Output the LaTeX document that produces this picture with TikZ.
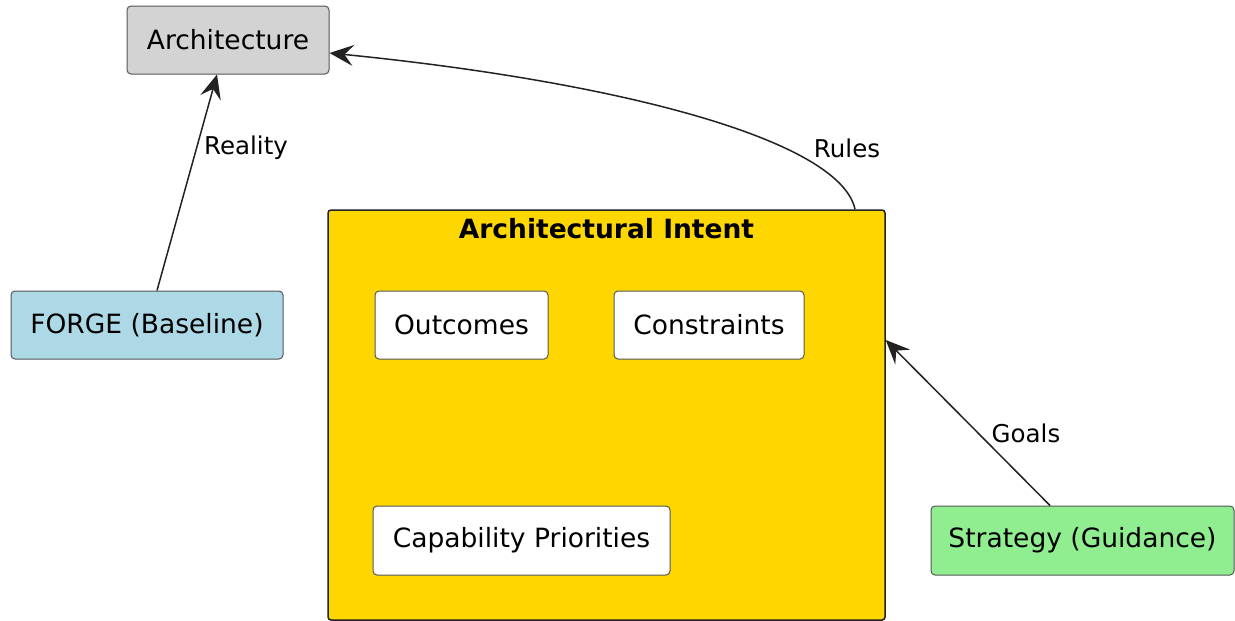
\documentclass[tikz,border=0pt]{standalone}
\usepackage{fontspec}
\setmainfont{DejaVu Sans}
\usetikzlibrary{arrows.meta}
\definecolor{archgray}{HTML}{D3D3D3}
\definecolor{forgeblue}{HTML}{ADD8E6}
\definecolor{intentgold}{HTML}{FFD700}
\definecolor{stratgreen}{HTML}{90EE90}
\definecolor{edgegray}{HTML}{555555}
\definecolor{linegray}{HTML}{222222}
\tikzset{
  box/.style={draw=edgegray, line width=1pt, rounded corners=4pt, inner sep=0pt,
    minimum height=68pt, font=\fontsize{26.5}{31}\selectfont},
  flow/.style={draw=linegray, line width=1.5pt,
    -{Stealth[length=24pt, width=21pt, inset=9pt]}},
  lbl/.style={font=\fontsize{24.5}{29}\selectfont, inner sep=0pt}
}
\begin{document}
\begin{tikzpicture}[x=1pt, y=-1pt]
    \useasboundingbox (0,0) rectangle (1235,621);
    % outer boxes
    \node[box, fill=archgray, minimum width=202pt] (arch) at (228,40) {Architecture};
    \node[box, fill=forgeblue, minimum width=272pt] (forge) at (147,325) {FORGE (Baseline)};
    \node[box, fill=intentgold, draw=linegray, line width=1.5pt, rounded corners=3pt,
          minimum width=557pt, minimum height=410pt] (intent) at (606.5,415) {};
    \node[font=\bfseries\fontsize{26.5}{31}\selectfont] (title) at (606.5,229) {Architectural Intent};
    \node[box, fill=stratgreen, minimum width=303pt, minimum height=69pt] (strat) at (1082.5,540.5) {Strategy (Guidance)};
    % inside the intent
    \node[box, fill=white, minimum width=173pt] (outc) at (461.5,325) {Outcomes};
    \node[box, fill=white, minimum width=190pt] (cons) at (709,325) {Constraints};
    \node[box, fill=white, minimum width=297pt, minimum height=69pt] (capa) at (521.5,540.5) {Capability Priorities};
    % links
    \draw[flow] ([xshift=10pt]forge.north) -- ([xshift=-11pt]arch.south);
    \node[lbl] (reality) at (246,148) {Reality};
    \draw[flow] ([xshift=248.5pt]intent.north) .. controls (840,140) and (620,82) .. ([yshift=-13pt]arch.east);
    \node[lbl] (rules) at (847,148) {Rules};
    \draw[flow] ([xshift=-32.5pt]strat.north) -- ([yshift=75pt]intent.east);
    \node[lbl] (goals) at (1026,433) {Goals};
\end{tikzpicture}
\end{document}
